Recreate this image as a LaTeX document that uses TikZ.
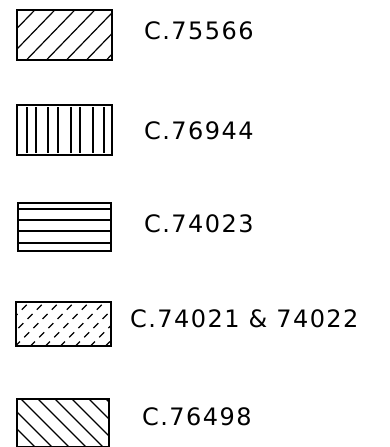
\documentclass[tikz,border=0pt]{standalone}
\usepackage{fontspec}
\newfontfamily\handfont[LetterSpace=6]{DejaVu Sans}
\usetikzlibrary{positioning, calc}

\begin{document}
\begin{tikzpicture}[
    x=1pt, y=-1pt,
    swatch/.style={draw, line width=1.5pt, inner sep=0pt, anchor=north west,
                   minimum width=95pt, minimum height=50pt},
    hatch/.style={line width=1.2pt},
    code/.style={font=\handfont\fontsize{24}{26}\selectfont, anchor=west, inner sep=0pt},
]
\useasboundingbox (0,0) rectangle (390,447);

% swatches
\node[swatch] (s1) at (16,9) {};
\node[swatch] (s2) at (16,104) {};
\node[swatch, minimum width=93pt, minimum height=48pt] (s3) at (17,202) {};
\node[swatch, minimum height=44pt] (s4) at (15,301) {};
\node[swatch, minimum width=92pt, minimum height=48pt] (s5) at (16,398) {};

% diagonal hatch
\begin{scope}
  \clip (s1.south west) rectangle (s1.north east);
  \foreach \i in {0,...,7}
    \draw[hatch] ($(s1.south west)+(\i*20-32,2)$) -- ++(60,-62);
\end{scope}

% vertical hatch
\foreach \xx in {11,20,32,42,55,64,77,88}
  \draw[hatch] ($(s2.north west)+(\xx,3)$) -- ++(0,46);

% horizontal hatch
\foreach \yy in {7,18,29,41}
  \draw[hatch] ($(s3.north west)+(0,\yy)$) -- ++(93,0);

% dashed diagonal hatch
\begin{scope}
  \clip (s4.south west) rectangle (s4.north east);
  \foreach \i in {0,...,8}
    \draw[hatch, dash pattern=on 7pt off 6pt] ($(s4.south west)+(\i*15-30,0)$) -- ++(50,-50);
\end{scope}

% back diagonal hatch
\begin{scope}
  \clip (s5.south west) rectangle (s5.north east);
  \foreach \i in {0,...,7}
    \draw[hatch] ($(s5.north west)+(\i*17-30,0)$) -- ++(52,52);
\end{scope}

% labels
\node[code] (c1) at (144,31) {C.75566};
\node[code] (c2) at (144,131) {C.76944};
\node[code] (c3) at (144,224) {C.74023};
\node[code] (c4) at (130,319) {C.74021 \& 74022};
\node[code] (c5) at (142,417) {C.76498};
\end{tikzpicture}
\end{document}
